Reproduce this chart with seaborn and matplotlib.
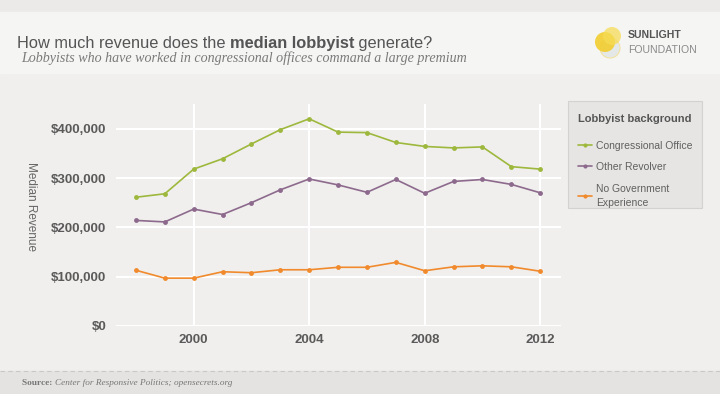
import seaborn as sns
import matplotlib.pyplot as plt
import pandas as pd
from matplotlib.lines import Line2D
from matplotlib.patches import Rectangle, Circle
from matplotlib.ticker import FuncFormatter

# data
years = list(range(1998, 2013))
congressional = [261000, 268000, 318000, 339000, 369000, 398000, 420000, 393000,
                 392000, 372000, 364000, 361000, 363000, 323000, 318000]
revolver = [214000, 211000, 237000, 226000, 250000, 276000, 298000, 286000,
            271000, 297000, 269000, 293000, 297000, 287000, 270000]
no_gov = [113000, 97000, 97000, 110000, 108000, 114000, 114000, 119000,
          119000, 129000, 112000, 120000, 122000, 120000, 111000]
series_names = ["Congressional Office", "Other Revolver", "No Government Experience"]
legend_labels = ["Congressional Office", "Other Revolver", "No Government\nExperience"]
series_colors = ["#9db83c", "#8d6a8d", "#f08a2c"]
y_ticks = [0, 100000, 200000, 300000, 400000]
x_ticks = [2000, 2004, 2008, 2012]

bg = "#f0efed"
sans = ["Liberation Sans", "DejaVu Sans"]
serif = ["Liberation Serif", "DejaVu Serif"]

sns.set_style("whitegrid", {"axes.facecolor": bg, "figure.facecolor": bg,
                            "grid.color": "white", "axes.edgecolor": bg})
plt.rcParams["font.family"] = sans

df = pd.DataFrame({
    "year": years * 3,
    "revenue": congressional + revolver + no_gov,
    "background": [n for n in series_names for _ in years],
})

W, H = 720, 394
fig = plt.figure(figsize=(W / 100, H / 100), dpi=100)
fig.patch.set_facecolor(bg)


def px(x, y, w, h):
    return [x / W, 1 - (y + h) / H, w / W, h / H]


# header / footer bands
fig.add_artist(Rectangle((0, 1 - 12 / H), 1, 12 / H, transform=fig.transFigure,
                         color="#ebeae8", zorder=0))
fig.add_artist(Rectangle((0, 1 - 73 / H), 1, 61 / H, transform=fig.transFigure,
                         color="#f5f5f4", zorder=0))
fig.add_artist(Rectangle((0, 0), 1, 23 / H, transform=fig.transFigure,
                         color="#e4e3e1", zorder=0))
fig.add_artist(Line2D([0, 1], [23 / H, 23 / H], transform=fig.transFigure,
                      color="#c9c8c6", lw=0.8, ls=(0, (4, 3))))

ax = fig.add_axes(px(116, 104, 445, 222))
sns.lineplot(data=df, x="year", y="revenue", hue="background",
             palette=dict(zip(series_names, series_colors)), marker="o",
             markersize=3.5, markeredgewidth=0, linewidth=1.2, legend=False, ax=ax)

ax.set_xlim(1997.31, 2012.72)
ax.set_ylim(0, 450000)
ax.set_xticks(x_ticks)
ax.set_yticks(y_ticks)
ax.yaxis.set_major_formatter(FuncFormatter(lambda v, p: "${:,.0f}".format(v)))
ax.grid(True, color="white", lw=1.5)
for s in ax.spines.values():
    s.set_visible(False)
ax.tick_params(length=0, labelsize=9.5, labelcolor="#5a5a5a")
ax.tick_params(axis="y", pad=7)
ax.tick_params(axis="x", pad=6)
for lab in ax.get_xticklabels() + ax.get_yticklabels():
    lab.set_fontweight("bold")
ax.set_xlabel("")
ax.set_ylabel("")
fig.text(31 / W, 1 - 206 / H, "Median Revenue", rotation=-90, fontsize=8.5,
         color="#666666", ha="center", va="center")

# legend box drawn by hand, legend itself without frame
fig.add_artist(Rectangle((568 / W, 1 - 208 / H), 134 / W, 107 / H,
                         transform=fig.transFigure, facecolor="#e6e5e3",
                         edgecolor="#d3d2d0", lw=0.8, zorder=1))
handles = [Line2D([], [], color=c, lw=1.2, marker="o", markersize=3, markeredgewidth=0)
           for c in series_colors]
leg = fig.legend(handles, legend_labels, title="Lobbyist background",
                 loc="upper left", bbox_to_anchor=(568 / W, 1 - 104 / H),
                 bbox_transform=fig.transFigure, frameon=False, borderaxespad=0,
                 fontsize=7.5, title_fontsize=8, borderpad=0.96, labelspacing=1.1,
                 handlelength=1.3, handletextpad=0.45)
leg.set_zorder(5)
leg._legend_box.align = "left"
leg._legend_box.sep = 12
leg.get_title().set_fontweight("bold")
leg.get_title().set_color("#555555")
for t in leg.get_texts():
    t.set_color("#606060")
    t.set_linespacing(1.6)

# title
t1 = fig.text(17 / W, 1 - 48 / H, "How much revenue does the ", fontsize=11.8,
              family=sans, color="#555555")
t2 = plt.annotate("median lobbyist", xy=(1, 0), xycoords=t1, va="bottom", ha="left",
                  fontsize=11.8, family=sans, fontweight="bold", color="#555555")
plt.annotate(" generate?", xy=(1, 0), xycoords=t2, va="bottom", ha="left",
             fontsize=11.8, family=sans, color="#555555")
fig.text(21 / W, 1 - 62 / H,
         "Lobbyists who have worked in congressional offices command a large premium",
         fontsize=10.1, family=serif, style="italic", color="#7a7a7a")

# logo
lax = fig.add_axes(px(594, 24, 32, 36))
lax.set_xlim(0, 32)
lax.set_ylim(36, 0)
lax.set_aspect("equal")
lax.axis("off")
lax.add_patch(Circle((16, 24), 10, facecolor="#e4e8e6", edgecolor="#f3e3a0", lw=0.8))
lax.add_patch(Circle((11, 18), 10, facecolor="#f2cd2f", alpha=0.9, lw=0))
lax.add_patch(Circle((18, 12), 9, facecolor="#f6dc56", alpha=0.75, lw=0))
fig.text(628 / W, 1 - 35.5 / H, "SUNLIGHT", fontsize=7.6, family=sans,
         fontweight="bold", color="#555555", va="center")
fig.text(628 / W, 1 - 50 / H, "FOUNDATION", fontsize=7.6, family=sans,
         color="#8a8a8a", va="center")

# source
s1 = fig.text(22 / W, 1 - 385 / H, "Source: ", fontsize=6.7, family=serif,
              fontweight="bold", color="#777777")
plt.annotate("Center for Responsive Politics; opensecrets.org", xy=(1, 0), xycoords=s1,
             va="bottom", ha="left", fontsize=6.7, family=serif, style="italic",
             color="#777777")

fig.savefig("out.png", dpi=100, facecolor=bg)
